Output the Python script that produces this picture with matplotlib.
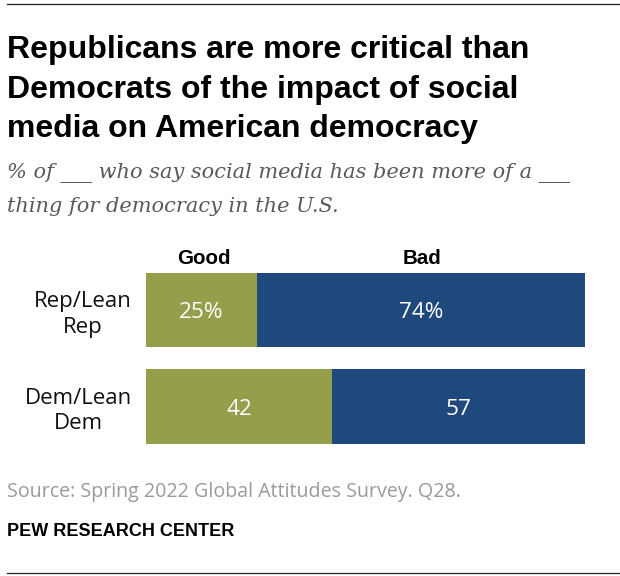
import matplotlib
matplotlib.use("Agg")
import matplotlib.pyplot as plt
from matplotlib.lines import Line2D

groups = ["Rep/Lean\nRep", "Dem/Lean\nDem"]
good = [25, 42]
bad = [74, 57]
good_labels = ["25%", "42"]
bad_labels = ["74%", "57"]

W, H = 620, 576
fig = plt.figure(figsize=(W/100, H/100), dpi=100)
plt.rcParams['font.family'] = ['Liberation Sans']
LAB = 'Open Sans'

x0, x1 = 146, 585
y_top, y_bot = 250, 456
ax = fig.add_axes([x0/W, 1-y_bot/H, (x1-x0)/W, (y_bot-y_top)/H])
ax.set_xlim(0, 99)
ax.set_ylim(y_bot, y_top)
ypos = [310, 406.5]
bh = 74.5
olive, navy = "#959E4A", "#1F497D"
ax.barh(ypos, good, height=bh, color=olive)
ax.barh(ypos, bad, left=good, height=bh, color=navy)
for y, g, b, gl, bl in zip(ypos, good, bad, good_labels, bad_labels):
    ax.text(g/2, y+0.5, gl, ha='center', va='center_baseline', color='white', fontsize=16.2, family=LAB)
    ax.text(g+b/2, y+0.5, bl, ha='center', va='center_baseline', color='white', fontsize=16.2, family=LAB)
ax.set_yticks(ypos)
ax.set_yticklabels(groups, fontsize=16, color='#111111', family=LAB, linespacing=1.28)
for t in ax.get_yticklabels():
    t.set_ha('right')
    t.set_multialignment('center')
ax.tick_params(axis='y', length=0, pad=10)
ax.set_xticks([])
for s in ax.spines.values():
    s.set_visible(False)
ax.patch.set_visible(False)

ax.text(good[0]/2+0.6, 259, "Good", ha='center', va='center', fontsize=14.8, fontweight='bold', color='black')
ax.text(good[0]+bad[0]/2+0.3, 259, "Bad", ha='center', va='center', fontsize=14.8, fontweight='bold', color='black')

def T(x, y, s, **k):
    fig.text(x/W, 1-y/H, s, va='baseline', **k)

for yy in (4, 573):
    fig.add_artist(Line2D([7/W, 620/W], [1-yy/H]*2, color='#222222', lw=0.9))

T(7, 58, "Republicans are more critical than", fontsize=23, fontweight='bold', color='black')
T(7, 98, "Democrats of the impact of social", fontsize=23, fontweight='bold', color='black')
T(7, 137.5, "media on American democracy", fontsize=23, fontweight='bold', color='black')
T(7, 178, "% of ___ who say social media has been more of a ___", fontsize=15, style='italic', family='DejaVu Serif', color='#595959')
T(7, 212, "thing for democracy in the U.S.", fontsize=15, style='italic', family='DejaVu Serif', color='#595959')
T(7, 497, "Source: Spring 2022 Global Attitudes Survey. Q28.", fontsize=14.15, family=LAB, color='#9a9a9a')
T(7, 536, "PEW RESEARCH CENTER", fontsize=13, fontweight='bold', color='black')

fig.savefig("out.png", dpi=100)
